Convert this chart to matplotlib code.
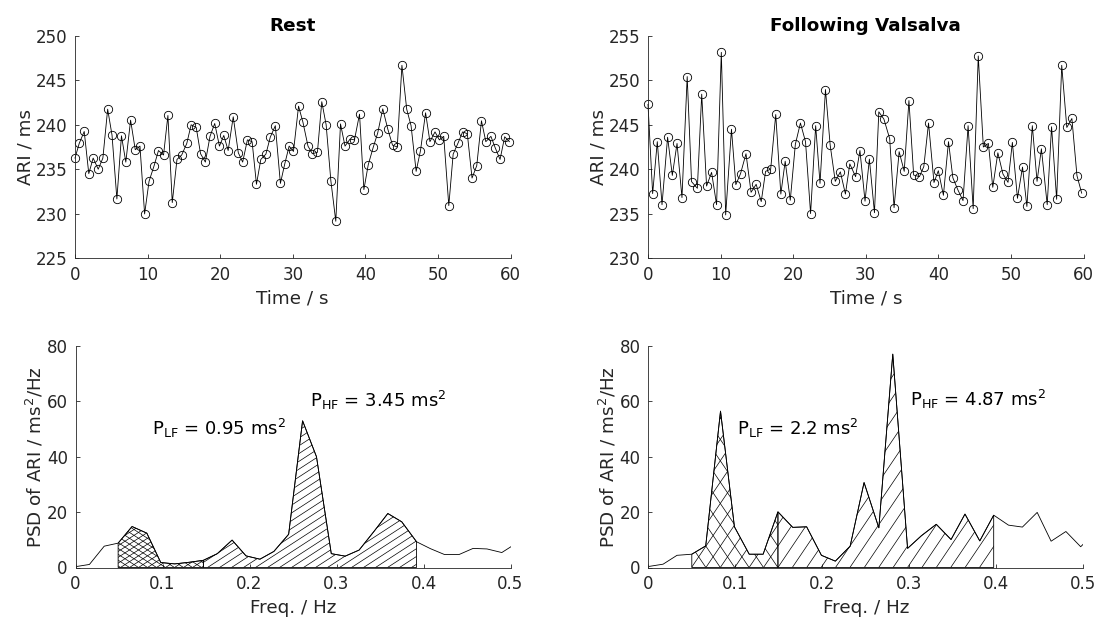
import numpy as np
import matplotlib
matplotlib.use('Agg')
import matplotlib.pyplot as plt
from matplotlib.collections import LineCollection
from matplotlib.patches import Polygon

plt.rcParams['font.family'] = 'DejaVu Sans'
plt.rcParams['mathtext.default'] = 'regular'

FIG_W, FIG_H = 1106, 623
AX_COLOR = '#262626'

# beat times (s) and ARI (ms) at rest
t_rest = [0, 0.58, 1.27, 1.9, 2.5, 3.2, 3.84, 4.5, 5.1, 5.77, 6.4, 7.0, 7.66, 8.3,
          8.95, 9.59, 10.2, 10.9, 11.5, 12.2, 12.8, 13.4, 14.05, 14.7, 15.4, 16.0,
          16.7, 17.3, 17.96, 18.6, 19.25, 19.9, 20.5, 21.1, 21.8, 22.5, 23.1, 23.75,
          24.4, 25.0, 25.6, 26.3, 26.9, 27.6, 28.3, 28.9, 29.5, 30.1, 30.8, 31.4,
          32.1, 32.7, 33.4, 34.0, 34.6, 35.25, 35.93, 36.58, 37.2, 37.9, 38.5, 39.2,
          39.8, 40.4, 41.1, 41.7, 42.4, 43.1, 43.75, 44.4, 45.04, 45.7, 46.3, 47.0,
          47.6, 48.3, 48.9, 49.6, 50.2, 50.8, 51.5, 52.1, 52.8, 53.4, 54.05, 54.7,
          55.35, 56.0, 56.6, 57.3, 57.9, 58.56, 59.2, 59.85]
ari_rest = [236.25, 237.9, 239.25, 234.5, 236.25, 235.0, 236.25, 241.76, 238.84, 231.65,
            238.76, 235.8, 240.52, 237.2, 237.6, 229.96, 233.63, 235.4, 237.1, 236.6,
            241.05, 231.24, 236.1, 236.6, 237.9, 240.0, 239.7, 236.74, 235.8, 238.7,
            240.15, 237.6, 238.8, 237.1, 240.9, 236.85, 235.8, 238.3, 238.1, 233.3,
            236.1, 236.7, 238.6, 239.9, 233.4, 235.6, 237.6, 237.0, 242.1, 240.3,
            237.6, 236.74, 236.9, 242.6, 240.0, 233.7, 229.14, 240.1, 237.6, 238.4,
            238.3, 241.2, 232.7, 235.5, 237.5, 239.06, 241.8, 239.5, 237.7, 237.5,
            246.7, 241.76, 239.9, 234.76, 237.1, 241.35, 238.1, 239.2, 238.3, 238.7,
            230.9, 236.7, 238.0, 239.2, 239.0, 234.0, 235.4, 240.45, 238.1, 238.7,
            237.4, 236.1, 238.65, 238.1]

# beat times (s) and ARI (ms) following Valsalva
t_vals = [0, 0.64, 1.28, 1.93, 2.7, 3.35, 4.0, 4.68, 5.4, 6.0, 6.8, 7.4, 8.07, 8.76,
          9.45, 10.1, 10.7, 11.5, 12.1, 12.75, 13.5, 14.2, 14.9, 15.6, 16.2, 16.9,
          17.6, 18.3, 18.9, 19.6, 20.3, 21.0, 21.7, 22.4, 23.1, 23.7, 24.45, 25.1,
          25.8, 26.5, 27.2, 27.8, 28.6, 29.2, 29.9, 30.5, 31.2, 31.8, 32.5, 33.3,
          33.9, 34.6, 35.3, 35.95, 36.6, 37.4, 38.0, 38.65, 39.4, 40.0, 40.7, 41.4,
          42.0, 42.7, 43.4, 44.1, 44.8, 45.5, 46.2, 46.9, 47.5, 48.2, 48.9, 49.6,
          50.2, 50.9, 51.6, 52.2, 52.95, 53.6, 54.2, 55.0, 55.6, 56.3, 57.0, 57.7,
          58.4, 59.1, 59.75]
ari_vals = [247.3, 237.25, 243.1, 236.0, 243.6, 239.3, 242.9, 236.8, 250.43, 238.6,
            237.85, 248.45, 238.1, 239.64, 236.0, 253.16, 234.85, 244.5, 238.26, 239.5,
            241.74, 237.4, 238.3, 236.35, 239.76, 240.0, 246.16, 237.2, 240.9, 236.5,
            242.8, 245.2, 243.1, 235.0, 244.9, 238.4, 248.97, 242.7, 238.63, 239.7,
            237.2, 240.6, 239.16, 242.1, 236.4, 241.14, 235.1, 246.46, 245.64, 243.43,
            235.67, 241.97, 239.76, 247.73, 239.34, 239.16, 240.3, 245.2, 238.5, 239.83,
            237.06, 243.1, 239.04, 237.66, 236.46, 244.9, 235.56, 252.75, 242.5, 242.9,
            237.96, 241.85, 239.46, 238.52, 243.02, 236.72, 240.24, 235.8, 244.9, 238.63,
            242.3, 236.0, 244.78, 236.61, 251.7, 244.7, 245.71, 239.27, 237.3]

# power spectral density of ARI (ms^2/Hz)
freq_rest = [0.000, 0.016, 0.033, 0.049, 0.065, 0.082, 0.098, 0.114, 0.131, 0.147,
             0.163, 0.180, 0.196, 0.212, 0.228, 0.245, 0.261, 0.277, 0.294, 0.310,
             0.326, 0.343, 0.359, 0.375, 0.392, 0.408, 0.424, 0.441, 0.457, 0.473,
             0.490, 0.506]
psd_rest = [0.3, 1.1, 7.7, 8.8, 14.8, 12.4, 1.8, 1.3, 1.9, 2.6,
            5.0, 9.9, 4.2, 3.0, 5.8, 12.0, 53.0, 40.0, 5.0, 4.1,
            6.3, 13.0, 19.5, 16.5, 9.3, 6.8, 4.7, 4.7, 6.9, 6.7,
            5.4, 8.6]
freq_vals = [0.000, 0.017, 0.033, 0.050, 0.066, 0.083, 0.099, 0.116, 0.132, 0.149,
             0.166, 0.182, 0.199, 0.215, 0.232, 0.248, 0.265, 0.281, 0.298, 0.314,
             0.331, 0.348, 0.364, 0.381, 0.397, 0.414, 0.430, 0.447, 0.463, 0.480,
             0.497, 0.513]
psd_vals = [0.35, 1.2, 4.4, 4.8, 7.8, 56.5, 14.7, 4.8, 4.8, 20.1,
            14.5, 14.7, 4.4, 2.3, 7.7, 30.7, 14.3, 77.1, 6.9, 11.5,
            15.6, 10.1, 19.3, 9.6, 18.9, 15.3, 14.6, 19.9, 9.5, 13.0,
            7.5, 12.5]

# first and last spectral bin of each band
LF_BINS = (3, 9)
HF_BINS = (9, 24)

p_lf_rest, p_hf_rest = 0.95, 3.45
p_lf_vals, p_hf_vals = 2.2, 4.87


def px_axes(fig, left, top, w, h):
    ax = fig.add_axes([left / FIG_W, 1 - (top + h) / FIG_H, w / FIG_W, h / FIG_H])
    ax.w_px, ax.h_px = w, h
    return ax


def style(ax):
    for s in ('top', 'right'):
        ax.spines[s].set_visible(False)
    for s in ('left', 'bottom'):
        ax.spines[s].set_color(AX_COLOR)
        ax.spines[s].set_linewidth(0.6)
    ax.tick_params(direction='in', length=3, width=0.6, color=AX_COLOR,
                   labelcolor=AX_COLOR, labelsize=12, pad=5.5)


def band_patch(ax, f, p, bins):
    i0, i1 = bins
    verts = [(f[i0], 0)] + list(zip(f[i0:i1 + 1], p[i0:i1 + 1])) + [(f[i1], 0)]
    poly = Polygon(verts, closed=True, facecolor='none', edgecolor='k', lw=0.6)
    ax.add_patch(poly)
    return poly


def hatch(ax, poly, angle, step, cross=False):
    # hatch lines laid out in pixel space, clipped to the band polygon
    x0, x1 = ax.get_xlim()
    y0, y1 = ax.get_ylim()
    dx = (x1 - x0) / ax.w_px
    dy = (y1 - y0) / ax.h_px
    xy = np.asarray(poly.get_xy())
    u = (xy[:, 0] - x0) / dx
    vmax = (xy[:, 1].max() - y0) / dy
    run = vmax / np.tan(np.radians(angle))
    segs = []
    for sgn in ((1, -1) if cross else (1,)):
        lo, hi = (u.min() - run, u.max()) if sgn > 0 else (u.min(), u.max() + run)
        c = np.floor(lo / step) * step
        while c <= hi:
            segs.append([(x0 + c * dx, y0), (x0 + (c + sgn * run) * dx, y0 + vmax * dy)])
            c += step
    lc = LineCollection(segs, colors='k', linewidths=0.5)
    ax.add_collection(lc, autolim=False)
    lc.set_clip_path(poly)


fig = plt.figure(figsize=(FIG_W / 100, FIG_H / 100), dpi=100)

# ARI time series
for left, t, ari, ylo, title in ((75, t_rest, ari_rest, 225, 'Rest'),
                                 (648, t_vals, ari_vals, 230, 'Following Valsalva')):
    ax = px_axes(fig, left, 36, 435.5, 222)
    ax.plot(t, ari, color='k', lw=0.6, marker='o', ms=6, mfc='none', mec='k', mew=0.6,
            clip_on=False)
    ax.set_xlim(0, 60)
    ax.set_ylim(ylo, ylo + 25)
    ax.set_xticks(range(0, 61, 10))
    ax.set_yticks(range(ylo, ylo + 26, 5))
    style(ax)
    ax.set_xlabel('Time / s', fontsize=13.2, color=AX_COLOR, labelpad=4)
    ax.set_ylabel('ARI / ms', fontsize=13.2, color=AX_COLOR, labelpad=1)
    ax.set_title(title, fontsize=13.2, fontweight='bold', pad=3.5)

# PSD with LF / HF bands
panels = ((75.5, freq_rest, psd_rest, p_lf_rest, p_hf_rest, 33, 9, 12,
           (0.088, 47.8), (0.270, 58.1)),
          (648.3, freq_vals, psd_vals, p_lf_vals, p_hf_vals, 56, 14.4, 14.4,
           (0.1015, 47.8), (0.3005, 58.3)))
for left, f, p, plf, phf, ang, lf_step, hf_step, lf_xy, hf_xy in panels:
    ax = px_axes(fig, left, 346, 435, 221.5)
    ax.set_xlim(0, 0.5)
    ax.set_ylim(0, 80)
    lf = band_patch(ax, f, p, LF_BINS)
    hf = band_patch(ax, f, p, HF_BINS)
    hatch(ax, lf, ang, lf_step, cross=True)
    hatch(ax, hf, ang, hf_step)
    ax.plot(f, p, color='k', lw=0.6)
    ax.set_xticks([0, 0.1, 0.2, 0.3, 0.4, 0.5])
    ax.set_xticklabels(['0', '0.1', '0.2', '0.3', '0.4', '0.5'])
    ax.set_yticks(range(0, 81, 20))
    style(ax)
    ax.set_xlabel('Freq. / Hz', fontsize=13.2, color=AX_COLOR, labelpad=4)
    ax.set_ylabel('PSD of ARI / ms$^2$/Hz', fontsize=13.2, color=AX_COLOR, labelpad=1)
    ax.text(*lf_xy, f'P$_{{LF}}$ = {plf} ms$^2$', fontsize=13, va='baseline')
    ax.text(*hf_xy, f'P$_{{HF}}$ = {phf} ms$^2$', fontsize=13, va='baseline')

fig.savefig('out.png', dpi=100)
